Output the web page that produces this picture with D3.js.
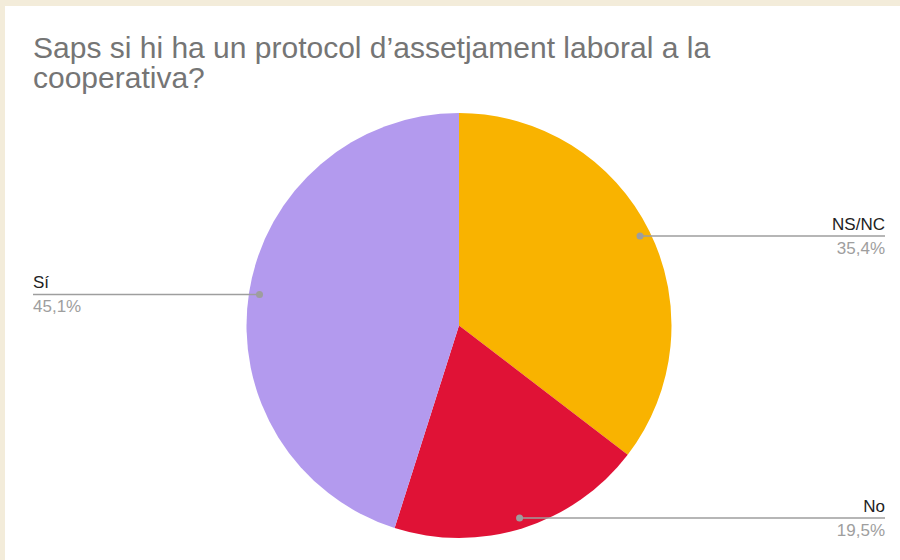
<!DOCTYPE html>
<html>
<head>
<meta charset="utf-8">
<script src="https://cdn.jsdelivr.net/npm/d3@7"></script>
<style>
  body { margin: 0; background: #f3ecda; }
  .chart { width: 900px; height: 560px; }
  text { font-family: Arial, "Liberation Sans", sans-serif; }
</style>
</head>
<body>
<div class="chart"></div>
<script>
// data
var titleLines = ["Saps si hi ha un protocol d\u2019assetjament laboral a la", "cooperativa?"]
var categories = ["NS/NC", "No", "Sí"]
var values = [35.4, 19.5, 45.1]
var pctLabels = ["35,4%", "19,5%", "45,1%"]
var colors = ["#f9b300", "#e01236", "#b39aee"]

var width = 900, height = 560

var svg = d3.select(".chart")
  .append("svg")
    .attr("width", width)
    .attr("height", height)

// white panel
svg.append("rect")
  .attr("x", 5).attr("y", 6)
  .attr("width", width - 5).attr("height", height - 6)
  .attr("fill", "#ffffff")

// title
svg.append("g").selectAll("text")
  .data(titleLines)
  .enter()
  .append("text")
    .attr("x", 33)
    .attr("y", function(d, i) { return 58 + i * 30 })
    .attr("fill", "#757575")
    .style("font-size", "30px")
    .text(function(d) { return d })

var cx = 459, cy = 325.5, r = 212.5

var data = categories.map(function(c, i) {
  return {name: c, value: values[i], pct: pctLabels[i], color: colors[i]}
})

var pie = d3.pie()
  .sort(null)
  .value(function(d) { return d.value })

var arc = d3.arc().innerRadius(0).outerRadius(r)
var dotArc = d3.arc().innerRadius(r * 0.95).outerRadius(r * 0.95)

var g = svg.append("g")
  .attr("transform", "translate(" + cx + "," + cy + ")")

var arcs = pie(data)

g.selectAll("path")
  .data(arcs)
  .enter()
  .append("path")
    .attr("d", arc)
    .attr("fill", function(d) { return d.data.color })

// leader lines + labels
var labelX = {left: 33, right: 885}

arcs.forEach(function(d) {
  var p = dotArc.centroid(d)
  var px = cx + p[0], py = cy + p[1]
  var right = px > cx
  var endX = right ? labelX.right : labelX.left

  svg.append("line")
    .attr("x1", px).attr("y1", py)
    .attr("x2", endX).attr("y2", py)
    .attr("stroke", "#9e9e9e")
    .attr("stroke-width", 1.5)

  svg.append("circle")
    .attr("cx", px).attr("cy", py)
    .attr("r", 3.5)
    .attr("fill", "#9e9e9e")

  svg.append("text")
    .attr("x", endX)
    .attr("y", py - 6.5)
    .attr("text-anchor", right ? "end" : "start")
    .attr("fill", "#222222")
    .style("font-size", "17px")
    .text(d.data.name)

  svg.append("text")
    .attr("x", endX)
    .attr("y", py + 17.5)
    .attr("text-anchor", right ? "end" : "start")
    .attr("fill", "#9e9e9e")
    .style("font-size", "17px")
    .text(d.data.pct)
})
</script>
</body>
</html>
